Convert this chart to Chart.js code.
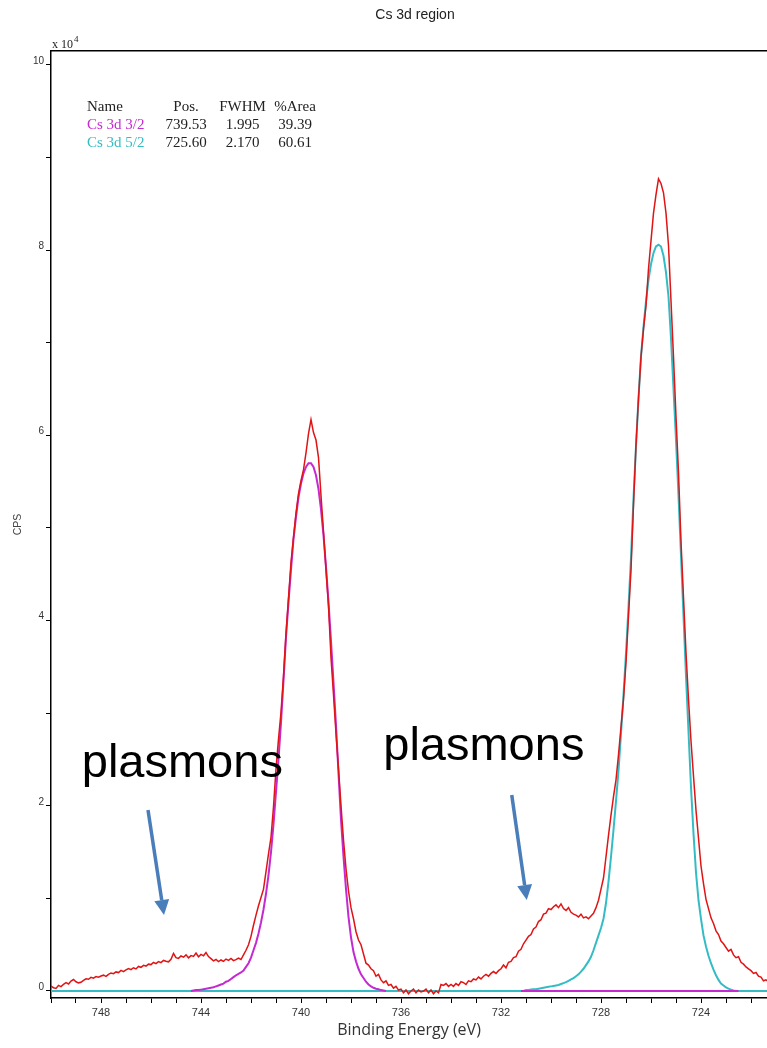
<!DOCTYPE html>
<html>
<head>
<meta charset="utf-8">
<title>Cs 3d region</title>
<script src="https://cdn.jsdelivr.net/npm/chart.js@4.4.1/dist/chart.umd.min.js"></script>
<style>
  html, body { margin: 0; padding: 0; background: #ffffff; }
  #wrap { width: 767px; height: 1048px; position: relative; }
</style>
</head>
<body>
<div id="wrap"><canvas id="xps" width="767" height="1048"></canvas></div>
<script>
// ---- Cs 3d high-resolution scan (binding energy in eV, intensity in CPS) ----
const chartTitle = 'Cs 3d region';
const xAxisTitle = 'Binding Energy (eV)';
const yAxisTitle = 'CPS';

// measured envelope, sampled every 0.1 eV from 750.0 eV downwards
const energyStart = 750.0;
const energyStep = 0.1;
const measuredCps = [
  520, 350, 280, 610, 480, 720, 900, 760, 1080, 1240,
  1000, 880, 940, 1150, 1320, 1270, 1480, 1390, 1560, 1500,
  1620, 1710, 1580, 1800, 1950, 1870, 2060, 1990, 2230, 2100,
  2280, 2420, 2300, 2510, 2380, 2650, 2560, 2770, 2690, 2900,
  2850, 3080, 2960, 3180, 3060, 3300, 3210, 3150, 3420, 4050,
  3600, 3520, 3780, 3650, 3900, 3580, 3820, 3740, 4100, 3700,
  3950, 3800, 4150, 3720, 3500, 3260, 3400, 3180, 3350, 3200,
  3450, 3300, 3520, 3280, 3380, 3560, 3400, 3900, 4400, 5000,
  5900, 7100, 8200, 9200, 10100, 11000, 12900, 14800, 16600, 19900,
  24000, 27200, 30100, 34000, 38600, 42400, 46300, 49000, 51600, 53700,
  55100, 56300, 58100, 60200, 61700, 60300, 59500, 57600, 53500, 49600,
  45500, 41600, 36000, 32000, 27800, 24000, 20000, 16300, 13200, 10800,
  9000, 7800, 6400, 5500, 5000, 4000, 3000, 2800, 2400, 2200,
  1600, 1800, 1200, 900, 1100, 600, 700, 300, 500, 100,
  200, -200, 100, -300, 0, 200, -200, 100, -100, 0,
  200, -200, 100, -300, 0, -200, 700, 600, 800, 500,
  700, 500, 800, 600, 1000, 900, 700, 1100, 1000, 1300,
  1200, 1500, 1300, 1600, 1800, 1600, 1900, 2100, 1900, 2200,
  2400, 2800, 2500, 3100, 3200, 3600, 3700, 4300, 4500, 5100,
  5500, 5900, 6100, 6700, 6900, 7500, 7700, 8300, 8400, 8900,
  8800, 9100, 9300, 9000, 9400, 8900, 8700, 9000, 8500, 8300,
  8200, 8000, 8300, 7900, 8000, 7800, 8100, 8400, 9000, 9800,
  11000, 12200, 14500, 16800, 19000, 21000, 22800, 25500, 28500, 31500,
  35500, 40500, 45500, 52500, 59000, 64000, 68500, 71500, 74000, 78000,
  81000, 84000, 86000, 87700, 87200, 86200, 84000, 80500, 74500, 68500,
  62000, 56000, 48500, 42500, 36500, 31500, 27000, 23200, 19500, 16500,
  13500, 11600, 9900, 8900, 7900, 7300, 6500, 6100, 5400, 5100,
  4700, 4300, 4500, 3900, 3600, 3700, 3100, 2900, 2600, 2400,
  2200, 1900, 2000, 1600, 1500, 1100, 1200, 1000
];

// fitted component Cs 3d 3/2, sampled every 0.1 eV from 744.4 eV
const fit32Start = 744.4;
const fit32Cps = [
  0, 50, 100, 100, 150, 200, 250, 300, 350, 400,
  500, 600, 700, 800, 1000, 1100, 1300, 1500, 1700, 1850,
  2000, 2200, 2600, 3000, 3600, 4400, 5200, 6200, 7400, 8800,
  10500, 12500, 15000, 18000, 21500, 25000, 29000, 33500, 38200, 42000,
  45500, 48800, 51200, 53300, 54800, 55900, 56600, 57000, 57000, 56600,
  55700, 54200, 52000, 49200, 45800, 42000, 37800, 33300, 28700, 23500,
  18500, 14500, 11000, 8000, 5800, 4200, 3200, 2400, 1800, 1400,
  1000, 700, 500, 350, 250, 200, 100, 50, 0
];
const fit32TailEnergy = [731.2, 722.5];
const fit32TailCps = [0, 0];

// fitted component Cs 3d 5/2, sampled every 0.1 eV from 731.0 eV
const fit52Start = 731.0;
const fit52Cps = [
  100, 120, 150, 180, 200, 250, 300, 350, 400, 450,
  500, 550, 600, 650, 750, 850, 950, 1100, 1250, 1400,
  1600, 1800, 2100, 2400, 2800, 3200, 3700, 4400, 5200, 6000,
  6800, 7800, 9500, 11800, 14500, 17400, 20500, 23800, 27800, 32000,
  36500, 41500, 46800, 53200, 58800, 64000, 68500, 71700, 74500, 76800,
  78500, 79700, 80400, 80600, 80400, 79400, 77600, 75000, 70500, 65000,
  59500, 53500, 47000, 40500, 34000, 28000, 22000, 17000, 12800, 9800,
  7800, 6000, 4800, 3800, 3000, 2300, 1700, 1200, 800, 600,
  400, 250, 150, 50, 0
];
const fit52LeadEnergy = [750.0, 731.1];
const fit52LeadCps = [0, 0];
const fit52TailEnergy = [722.5, 721.3];
const fit52TailCps = [0, 0];

// peak table
const tableHeader = ['Name', 'Pos.', 'FWHM', '%Area'];
const componentNames = ['Cs 3d 3/2', 'Cs 3d 5/2'];
const componentPos = ['739.53', '725.60'];
const componentFwhm = ['1.995', '2.170'];
const componentArea = ['39.39', '60.61'];

// axis ranges and ticks
const energyHigh = 750.0;
const energyLow = 721.36;
const energyTickValues = [722, 723, 724, 725, 726, 727, 728, 729, 730, 731, 732, 733, 734, 735, 736,
  737, 738, 739, 740, 741, 742, 743, 744, 745, 746, 747, 748, 749, 750];
const energyTickLabels = ['', '', '724', '', '', '', '728', '', '', '', '732', '', '', '', '736',
  '', '', '', '740', '', '', '', '744', '', '', '', '748', '', ''];
const cpsMin = -756;
const cpsMax = 101510;
const cpsTickValues = [0, 10000, 20000, 30000, 40000, 50000, 60000, 70000, 80000, 90000, 100000];
const cpsTickLabels = ['0', '', '2', '', '4', '', '6', '', '8', '', '10'];
const cpsExponent = '4';
const annotationText = 'plasmons';

const colors = {
  measured: '#e01414',
  fit32: '#c42ad0',
  fit52: '#34bcc4',
  arrow: '#4a7ebb',
  ink: '#222222'
};

function sampled(start, values) {
  return values.map((v, i) => ({ x: +(start - i * energyStep).toFixed(2), y: v }));
}
function pairs(energies, values) {
  return energies.map((e, i) => ({ x: e, y: values[i] }));
}

const measuredData = sampled(energyStart, measuredCps);
const fit32Data = [...sampled(fit32Start, fit32Cps), { x: 734.0, y: null }, ...pairs(fit32TailEnergy, fit32TailCps)];
const fit52Data = [...pairs(fit52LeadEnergy, fit52LeadCps), ...sampled(fit52Start, fit52Cps), ...pairs(fit52TailEnergy, fit52TailCps)];

function drawArrow(ctx, x0, y0, x1, y1) {
  const ang = Math.atan2(y1 - y0, x1 - x0);
  const head = 15, half = 7.5;
  const bx = x1 - head * Math.cos(ang), by = y1 - head * Math.sin(ang);
  ctx.strokeStyle = colors.arrow;
  ctx.fillStyle = colors.arrow;
  ctx.lineWidth = 3.5;
  ctx.lineCap = 'butt';
  ctx.beginPath(); ctx.moveTo(x0, y0); ctx.lineTo(bx, by); ctx.stroke();
  ctx.beginPath();
  ctx.moveTo(x1, y1);
  ctx.lineTo(bx + half * Math.sin(ang), by - half * Math.cos(ang));
  ctx.lineTo(bx - half * Math.sin(ang), by + half * Math.cos(ang));
  ctx.closePath(); ctx.fill();
}

// title, exponent, peak table and plasmon annotations
const overlay = {
  id: 'overlay',
  afterDatasetsDraw(chart) {
    const { ctx, chartArea, scales } = chart;
    const x = scales.x, y = scales.y;
    const L = chartArea.left, T = chartArea.top;
    ctx.save();

    ctx.fillStyle = colors.ink;
    ctx.textBaseline = 'alphabetic';
    ctx.font = '14px "Liberation Sans", Arial, sans-serif';
    ctx.textAlign = 'center';
    ctx.fillText(chartTitle, (chartArea.left + chartArea.right) / 2 + 6, 19);

    // exponent above the y axis
    ctx.textAlign = 'left';
    ctx.font = '12px "Liberation Serif", "Times New Roman", serif';
    ctx.fillText('x 10', L + 1, T - 3);
    const w = ctx.measureText('x 10').width;
    ctx.font = '9px "Liberation Serif", "Times New Roman", serif';
    ctx.fillText(cpsExponent, L + 2 + w, T - 9);

    // peak table
    ctx.font = '15px "Liberation Serif", "Times New Roman", serif';
    const rows = [T + 60, T + 78, T + 96];
    const nameX = L + 36;
    const colX = [L + 135, L + 191.5, L + 244];
    ctx.textAlign = 'left';
    ctx.fillStyle = colors.ink;
    ctx.fillText(tableHeader[0], nameX, rows[0]);
    ctx.textAlign = 'center';
    for (let c = 0; c < 3; c++) ctx.fillText(tableHeader[c + 1], colX[c], rows[0]);
    const nameColors = [colors.fit32, colors.fit52];
    for (let r = 0; r < componentNames.length; r++) {
      ctx.textAlign = 'left';
      ctx.fillStyle = nameColors[r];
      ctx.fillText(componentNames[r], nameX, rows[r + 1]);
      ctx.textAlign = 'center';
      ctx.fillStyle = colors.ink;
      ctx.fillText(componentPos[r], colX[0], rows[r + 1]);
      ctx.fillText(componentFwhm[r], colX[1], rows[r + 1]);
      ctx.fillText(componentArea[r], colX[2], rows[r + 1]);
    }

    // plasmon labels and arrows, placed in data coordinates
    ctx.fillStyle = '#000000';
    ctx.textAlign = 'left';
    ctx.font = '47px "Liberation Sans", Arial, sans-serif';
    ctx.fillText(annotationText, x.getPixelForValue(748.77), y.getPixelForValue(23100));
    ctx.fillText(annotationText, x.getPixelForValue(736.71), y.getPixelForValue(24900));
    drawArrow(ctx, x.getPixelForValue(746.12), y.getPixelForValue(19550), x.getPixelForValue(745.48), y.getPixelForValue(8200));
    drawArrow(ctx, x.getPixelForValue(731.57), y.getPixelForValue(21170), x.getPixelForValue(730.97), y.getPixelForValue(9830));

    ctx.restore();
  }
};

new Chart(document.getElementById('xps'), {
  type: 'line',
  data: {
    datasets: [
      { label: 'Envelope', data: measuredData, borderColor: colors.measured, borderWidth: 1.5, pointRadius: 0, tension: 0, fill: false },
      { label: componentNames[0], data: fit32Data, borderColor: colors.fit32, borderWidth: 2, pointRadius: 0, tension: 0, fill: false, spanGaps: false },
      { label: componentNames[1], data: fit52Data, borderColor: colors.fit52, borderWidth: 2, pointRadius: 0, tension: 0, fill: false }
    ]
  },
  options: {
    responsive: false,
    animation: false,
    events: [],
    layout: { padding: { top: 51, left: 0, right: 0, bottom: 0 } },
    plugins: { legend: { display: false }, tooltip: { enabled: false }, title: { display: false } },
    scales: {
      x: {
        type: 'linear',
        position: 'bottom',
        reverse: true,
        min: energyLow,
        max: energyHigh,
        afterFit: (s) => { s.height = 50; },
        afterBuildTicks: (s) => { s.ticks = energyTickValues.map((v) => ({ value: v })); },
        ticks: {
          autoSkip: false,
          maxRotation: 0,
          padding: 3,
          color: '#333333',
          font: { family: '"Liberation Sans", Arial, sans-serif', size: 11 },
          callback: (v, i) => energyTickLabels[i]
        },
        grid: { drawOnChartArea: false, drawTicks: true, tickLength: 5, color: '#000000', lineWidth: 1 },
        border: { display: true, color: '#000000', width: 1.5 },
        title: {
          display: true, text: xAxisTitle, color: '#333333',
          font: { family: '"Open Sans", "Liberation Sans", sans-serif', size: 16 },
          padding: { top: 0, bottom: 8.4 }
        }
      },
      xTop: {
        type: 'linear',
        position: 'top',
        reverse: true,
        min: energyLow,
        max: energyHigh,
        afterFit: (s) => { s.height = 0; },
        ticks: { display: false },
        grid: { drawOnChartArea: false, drawTicks: false },
        border: { display: true, color: '#000000', width: 1.5 }
      },
      y: {
        type: 'linear',
        position: 'left',
        min: cpsMin,
        max: cpsMax,
        afterFit: (s) => { s.width = 51; },
        afterBuildTicks: (s) => { s.ticks = cpsTickValues.map((v) => ({ value: v })); },
        ticks: {
          autoSkip: false,
          padding: 2,
          labelOffset: -4,
          color: '#333333',
          font: { family: '"Liberation Sans", Arial, sans-serif', size: 10 },
          callback: (v, i) => cpsTickLabels[i]
        },
        grid: { drawOnChartArea: false, drawTicks: true, tickLength: 5, color: '#000000', lineWidth: 1 },
        border: { display: true, color: '#000000', width: 1.5 },
        title: {
          display: true, text: yAxisTitle, color: '#444444',
          font: { family: '"Liberation Sans", Arial, sans-serif', size: 10.5 },
          padding: { top: 11.7, bottom: 0 }
        }
      }
    }
  },
  plugins: [overlay]
});
</script>
</body>
</html>
